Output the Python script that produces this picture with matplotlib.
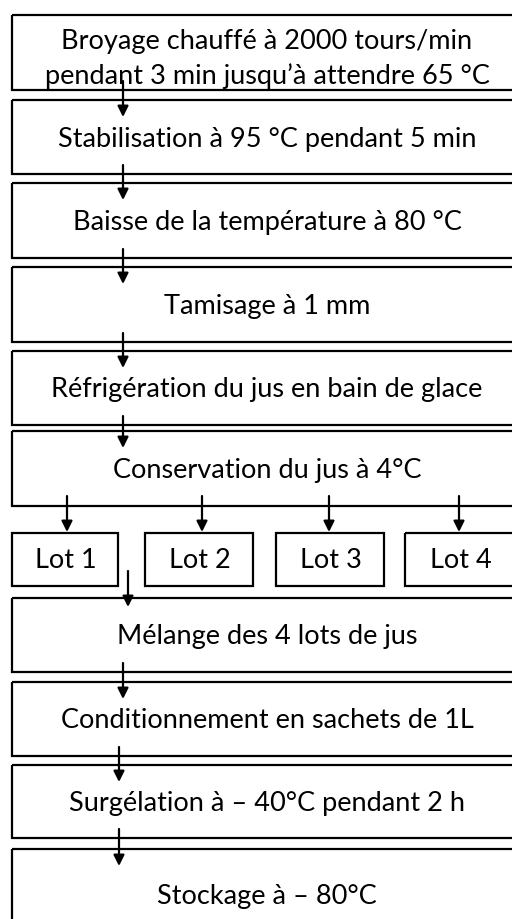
import matplotlib
matplotlib.use('Agg')
import matplotlib.pyplot as plt
from matplotlib.patches import Rectangle

plt.rcParams['font.family'] = ['Lato', 'DejaVu Sans']

# step labels (main column)
steps = [
    "Broyage chauffé à 2000 tours/min\npendant 3 min jusqu\u2019à attendre 65 °C",
    "Stabilisation à 95 °C pendant 5 min",
    "Baisse de la température à 80 °C",
    "Tamisage à 1 mm",
    "Réfrigération du jus en bain de glace",
    "Conservation du jus à 4°C",
    "Mélange des 4 lots de jus",
    "Conditionnement en sachets de 1L",
    "Surgélation à \u2013 40°C pendant 2 h",
    "Stockage à \u2013 80°C",
]
lots = ["Lot 1", "Lot 2", "Lot 3", "Lot 4"]

# layout (pixels, y downward)
box_top = [16, 101, 184, 268, 352, 432, 599, 683, 766, 850]
box_bot = [91, 175, 259, 343, 426, 507, 673, 757, 839, 935]
box_x0, box_x1 = 12, 522
lot_x0 = [12, 145, 276, 405]
lot_x1 = [118, 253, 384, 515]
lot_top, lot_bot = 534, 587
arrow_x = [123, 123, 123, 123, 123, None, 123, 119, 119]
lot_arrow_x = [67, 202, 329, 459]

fig = plt.figure(figsize=(5.12, 9.2), dpi=100)
ax = fig.add_axes([0, 0, 1, 1])
ax.set_xlim(0, 512)
ax.set_ylim(920, 0)
ax.axis('off')

lw = 1.6
fs = 19.5

for i, label in enumerate(steps):
    ax.add_patch(Rectangle((box_x0, box_top[i]), box_x1 - box_x0, box_bot[i] - box_top[i],
                           fill=False, edgecolor='black', lw=lw))
    if i == 0:
        ax.text(267, 42, label.split('\n')[0], ha='center', va='center', fontsize=fs)
        ax.text(267, 76, label.split('\n')[1], ha='center', va='center', fontsize=fs)
    elif i == 9:
        ax.text(267, 897, label, ha='center', va='center', fontsize=fs)
    else:
        ax.text(267, (box_top[i] + box_bot[i]) / 2 + 1, label, ha='center', va='center', fontsize=fs)

for j, label in enumerate(lots):
    ax.add_patch(Rectangle((lot_x0[j], lot_top), lot_x1[j] - lot_x0[j], lot_bot - lot_top,
                           fill=False, edgecolor='black', lw=lw))
    ax.text((lot_x0[j] + lot_x1[j]) / 2 + 1, (lot_top + lot_bot) / 2, label,
            ha='center', va='center', fontsize=fs)


def arrow(x, y0, y1):
    ax.annotate('', xy=(x, y1), xytext=(x, y0),
                arrowprops=dict(arrowstyle='-|>', color='black', lw=lw,
                                mutation_scale=16, shrinkA=0, shrinkB=0))


for i in range(len(steps) - 1):
    if i == 5:
        continue
    arrow(arrow_x[i], box_bot[i] - 9, box_top[i + 1] + 17)

for j in range(4):
    arrow(lot_arrow_x[j], 497, 533)
arrow(128, 572, 608)

fig.savefig('out.png', dpi=100)
